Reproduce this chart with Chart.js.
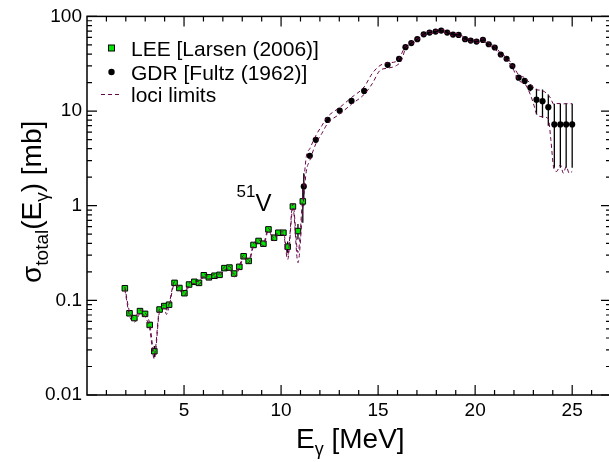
<!DOCTYPE html>
<html>
<head>
<meta charset="utf-8">
<script src="https://cdn.jsdelivr.net/npm/chart.js@4"></script>
<style>
  html, body { margin: 0; padding: 0; background: #fff; overflow: hidden; }
  #marco { width: 609px; height: 462px; overflow: hidden; }
</style>
</head>
<body>
<div id="marco"><canvas id="graficoSeccion" width="616" height="462"></canvas></div>
<script>
// LEE [Larsen (2006)]
const leeE = [1.95, 2.19, 2.44, 2.73, 2.99, 3.23, 3.47, 3.74, 3.98, 4.23,
              4.51, 4.76, 5.02, 5.26, 5.53, 5.77, 6.02, 6.28, 6.57, 6.83,
              7.08, 7.34, 7.58, 7.85, 8.07, 8.33, 8.58, 8.84, 9.09, 9.35,
              9.64, 9.86, 10.12, 10.34, 10.61, 10.87, 11.12];
const leeV = [0.134, 0.073, 0.065, 0.077, 0.072, 0.055, 0.029, 0.080, 0.087, 0.090,
              0.153, 0.135, 0.119, 0.147, 0.157, 0.153, 0.184, 0.175, 0.182, 0.186,
              0.219, 0.222, 0.192, 0.226, 0.292, 0.261, 0.385, 0.424, 0.397, 0.562,
              0.459, 0.518, 0.518, 0.369, 0.98, 0.54, 1.11];
const leeErr = [0.006, 0.004, 0.004, 0.004, 0.004, 0.004, 0.004, 0.004, 0.004, 0.004,
                0.006, 0.006, 0.005, 0.006, 0.006, 0.006, 0.007, 0.007, 0.007, 0.007,
                0.008, 0.008, 0.008, 0.008, 0.01, 0.01, 0.014, 0.015, 0.015, 0.02,
                0.02, 0.02, 0.02, 0.05, 0.05, 0.1, 0.45];

// GDR [Fultz (1962)]
const gdrE = [11.17, 11.48, 11.79, 12.40, 13.02, 13.63, 14.28, 15.49, 16.08, 16.41,
              16.71, 17.02, 17.35, 17.65, 17.96, 18.25, 18.56, 18.86, 19.15, 19.48,
              19.77, 20.07, 20.40, 20.70, 21.01, 21.32, 21.62, 21.92, 22.24, 22.55,
              22.84, 23.16, 23.47, 23.77, 24.08, 24.39, 24.69, 25.00];
const gdrV = [1.6, 3.37, 4.96, 8.05, 10.1, 12.8, 16.3, 30.8, 35.5, 47.3,
              52.2, 57.4, 64.7, 67.5, 69.1, 70.8, 67.5, 64.3, 63.7, 57.4,
              55.6, 54.2, 56.4, 50.8, 46.9, 39.6, 35.7, 29.9, 22.5, 20.8,
              17.7, 13.2, 12.7, 11.0, 7.22, 7.22, 7.22, 7.22];
const gdrErr = [0.6, 0.2, 0.25, 0.35, 0.4, 0.5, 0.6, 1.0, 1.2, 1.5,
                1.6, 1.7, 1.9, 2.0, 2.0, 2.1, 2.0, 2.0, 2.0, 1.8,
                1.7, 1.7, 1.7, 1.6, 1.5, 1.4, 1.4, 1.3, 1.2, 1.2,
                1.5, 4.0, 4.2, 4.0, 4.7, 4.7, 4.7, 4.7];

// loci limits
const lociE = [1.95, 2.19, 2.44, 2.6, 2.73, 2.99, 3.23, 3.47, 3.74, 3.98,
               4.1, 4.23, 4.51, 4.76, 5.02, 5.26, 5.53, 5.77, 6.02, 6.28,
               6.57, 6.83, 7.08, 7.34, 7.58, 7.85, 8.07, 8.33, 8.58, 8.84,
               9.09, 9.35, 9.64, 9.86, 10.12, 10.34, 10.61, 10.87, 11.12, 11.3,
               11.48, 11.79, 12.1, 12.4, 13.02, 13.63, 14.28, 14.7, 15.1, 15.5,
               15.95, 16.2, 16.41, 16.71, 17.02, 17.35, 17.65, 17.96, 18.25, 18.56,
               18.86, 19.15, 19.48, 19.77, 20.07, 20.4, 20.7, 21.01, 21.32, 21.62,
               21.92, 22.24, 22.55, 22.84, 23.03, 23.16, 23.47, 23.77, 23.9, 24.05,
               24.2, 24.39, 24.55, 24.69, 24.85, 25.0];
const lociHi = [0.138, 0.076, 0.066, 0.072, 0.079, 0.074, 0.057, 0.027, 0.082, 0.089,
                0.079, 0.092, 0.157, 0.138, 0.122, 0.151, 0.161, 0.157, 0.189, 0.179,
                0.187, 0.191, 0.225, 0.228, 0.189, 0.232, 0.300, 0.267, 0.394, 0.435,
                0.405, 0.576, 0.452, 0.530, 0.528, 0.30, 1.05, 0.32, 1.3, 3.3,
                4.0, 5.5, 7.0, 8.7, 10.9, 13.9, 18.0, 25.0, 30.3, 32.3,
                33.5, 40, 49, 53.8, 59.2, 66.7, 69.6, 71.2, 73.0, 69.6,
                66.3, 65.7, 59.2, 57.3, 55.9, 58.1, 52.4, 48.4, 40.8, 36.8,
                30.9, 24.2, 22.5, 19.5, 17.3, 16.8, 16.4, 14.8, 13.5, 11.8,
                12.0, 12.0, 11.9, 12.0, 11.9, 12.0];
const lociLo = [0.130, 0.069, 0.059, 0.064, 0.073, 0.067, 0.050, 0.024, 0.076, 0.083,
                0.071, 0.086, 0.148, 0.129, 0.113, 0.142, 0.151, 0.147, 0.178, 0.168,
                0.176, 0.180, 0.211, 0.214, 0.177, 0.218, 0.282, 0.250, 0.372, 0.410,
                0.378, 0.545, 0.425, 0.500, 0.498, 0.27, 0.94, 0.25, 0.95, 2.3,
                3.0, 4.5, 5.8, 7.4, 9.3, 11.8, 15.0, 19.5, 26.9, 28.4,
                30.3, 34.2, 45.5, 50.6, 55.7, 62.8, 65.5, 67.0, 68.7, 65.5,
                62.4, 61.8, 55.7, 53.9, 52.6, 54.7, 49.3, 45.5, 38.4, 34.6,
                28.9, 21.0, 19.5, 15.0, 11.5, 9.4, 8.7, 8.3, 5.0, 2.5,
                2.3, 2.7, 2.2, 2.6, 2.2, 2.3];

const xTicks = [5, 10, 15, 20, 25];
const yTicks = [0.01, 0.1, 1, 10, 100];
const yTickLabels = ['0.01', '0.1', '1', '10', '100'];

const FUENTE = "'Liberation Sans', Arial, Helvetica, sans-serif";
const VERDE = 'rgb(0,230,0)';
const LOCI = 'rgb(103,7,72)';

const puntos = (xs, ys) => xs.map((x, i) => ({ x: x, y: ys[i] }));

const decoraciones = {
    id: 'decoraciones',
    beforeDatasetsDraw(chart) {
        const ctx = chart.ctx, sx = chart.scales.x, sy = chart.scales.y, a = chart.chartArea;
        ctx.save();
        ctx.beginPath();
        ctx.rect(a.left, a.top, a.right - a.left, a.bottom - a.top);
        ctx.clip();
        ctx.strokeStyle = '#000';
        ctx.lineWidth = 1.3;
        const barras = (es, vs, errs) => {
            es.forEach((e, i) => {
                const px = sx.getPixelForValue(e);
                ctx.beginPath();
                ctx.moveTo(px, sy.getPixelForValue(vs[i] + errs[i]));
                ctx.lineTo(px, sy.getPixelForValue(Math.max(vs[i] - errs[i], 0.0001)));
                ctx.stroke();
            });
        };
        barras(leeE, leeV, leeErr);
        barras(gdrE, gdrV, gdrErr);
        ctx.restore();
    },
    afterDraw(chart) {
        const ctx = chart.ctx, sx = chart.scales.x, sy = chart.scales.y, a = chart.chartArea;
        ctx.save();
        // marco y marcas hacia dentro
        ctx.strokeStyle = '#000';
        ctx.lineWidth = 1.5;
        ctx.strokeRect(a.left, a.top, a.right - a.left, a.bottom - a.top);
        ctx.lineWidth = 1.2;
        ctx.beginPath();
        for (let v = 1; v <= 27; v++) {
            const px = sx.getPixelForValue(v);
            const l = (v % 5 === 0) ? 10 : 5;
            ctx.moveTo(px, a.bottom); ctx.lineTo(px, a.bottom - l);
            ctx.moveTo(px, a.top); ctx.lineTo(px, a.top + l);
        }
        for (let d = 0.01; d < 150; d *= 10) {
            for (let m = 1; m <= 9; m++) {
                const v = d * m;
                if (v > 100.001) break;
                const py = sy.getPixelForValue(v);
                const l = (m === 1) ? 10 : 5;
                ctx.moveTo(a.left, py); ctx.lineTo(a.left + l, py);
                ctx.moveTo(a.right, py); ctx.lineTo(a.right - l, py);
            }
        }
        ctx.stroke();

        ctx.fillStyle = '#000';
        ctx.textBaseline = 'alphabetic';
        ctx.textAlign = 'left';
        // titulo eje x
        let x = 296;
        ctx.font = '28px ' + FUENTE;
        ctx.fillText('E', x, 448); x += ctx.measureText('E').width;
        ctx.font = '18px ' + FUENTE;
        ctx.fillText('\u03b3', x, 455); x += ctx.measureText('\u03b3').width;
        ctx.font = '28px ' + FUENTE;
        ctx.fillText(' [MeV]', x, 448);

        // titulo eje y
        ctx.save();
        ctx.translate(41, 283);
        ctx.rotate(-Math.PI / 2);
        x = 0;
        const trozos = [['\u03c3', 28, 0], ['total', 19, 7], ['(E', 28, 0], ['\u03b3', 19, 7], [') [mb]', 28, 0]];
        trozos.forEach(t => {
            ctx.font = t[1] + 'px ' + FUENTE;
            ctx.fillText(t[0], x, t[2]);
            x += ctx.measureText(t[0]).width;
        });
        ctx.restore();

        // 51V
        ctx.font = '17px ' + FUENTE;
        ctx.fillText('51', 236.5, 196.5);
        ctx.font = '24px ' + FUENTE;
        ctx.fillText('V', 255.5, 210.5);

        // leyenda
        ctx.fillStyle = VERDE;
        ctx.fillRect(108.5, 45, 6, 6);
        ctx.lineWidth = 1;
        ctx.strokeStyle = '#000';
        ctx.strokeRect(108.5, 45, 6, 6);
        ctx.fillStyle = '#000';
        ctx.beginPath();
        ctx.arc(111.5, 72, 3.2, 0, Math.PI * 2);
        ctx.fill();
        ctx.strokeStyle = LOCI;
        ctx.setLineDash([4, 3]);
        ctx.beginPath();
        ctx.moveTo(101, 94.5); ctx.lineTo(121, 94.5);
        ctx.stroke();
        ctx.setLineDash([]);
        ctx.font = '21px ' + FUENTE;
        ctx.fillText('LEE [Larsen (2006)]', 131, 55.5);
        ctx.fillText('GDR [Fultz (1962)]', 131, 79.5);
        ctx.fillText('loci limits', 131, 101.5);
        ctx.restore();
    }
};

const ctx = document.getElementById('graficoSeccion').getContext('2d');
new Chart(ctx, {
    type: 'scatter',
    data: {
        datasets: [
            {
                label: 'loci limits',
                data: puntos(lociE, lociHi),
                showLine: true,
                borderColor: LOCI,
                borderWidth: 1,
                borderDash: [4, 3],
                pointRadius: 0,
                cubicInterpolationMode: 'monotone',
                fill: false
            },
            {
                label: 'loci limits (lower)',
                data: puntos(lociE, lociLo),
                showLine: true,
                borderColor: LOCI,
                borderWidth: 1,
                borderDash: [4, 3],
                pointRadius: 0,
                cubicInterpolationMode: 'monotone',
                fill: false
            },
            {
                label: 'LEE [Larsen (2006)]',
                data: puntos(leeE, leeV),
                pointStyle: 'rect',
                pointRadius: 3.9,
                backgroundColor: VERDE,
                borderColor: '#000',
                borderWidth: 1
            },
            {
                label: 'GDR [Fultz (1962)]',
                data: puntos(gdrE, gdrV),
                pointStyle: 'circle',
                pointRadius: 3.1,
                backgroundColor: '#000',
                borderColor: '#000',
                borderWidth: 0
            }
        ]
    },
    options: {
        responsive: false,
        animation: false,
        devicePixelRatio: 1,
        layout: { padding: { top: 14, right: 1.6, left: 0, bottom: 0 } },
        plugins: { legend: { display: false }, tooltip: { enabled: false } },
        scales: {
            x: {
                type: 'linear',
                min: 0,
                max: 27,
                grid: { display: false, drawTicks: false },
                border: { display: false },
                afterFit: s => { s.height = 67; },
                afterBuildTicks: s => { s.ticks = xTicks.map(v => ({ value: v })); },
                ticks: {
                    autoSkip: false,
                    maxRotation: 0,
                    padding: 4,
                    color: '#000',
                    font: { family: FUENTE, size: 19 }
                }
            },
            y: {
                type: 'logarithmic',
                min: 0.01,
                max: 100,
                grid: { display: false, drawTicks: false },
                border: { display: false },
                afterFit: s => { s.width = 87; },
                afterBuildTicks: s => { s.ticks = yTicks.map(v => ({ value: v })); },
                ticks: {
                    autoSkip: false,
                    padding: 5,
                    color: '#000',
                    font: { family: FUENTE, size: 19 },
                    callback: v => yTickLabels[yTicks.indexOf(v)]
                }
            }
        }
    },
    plugins: [decoraciones]
});
</script>
</body>
</html>
